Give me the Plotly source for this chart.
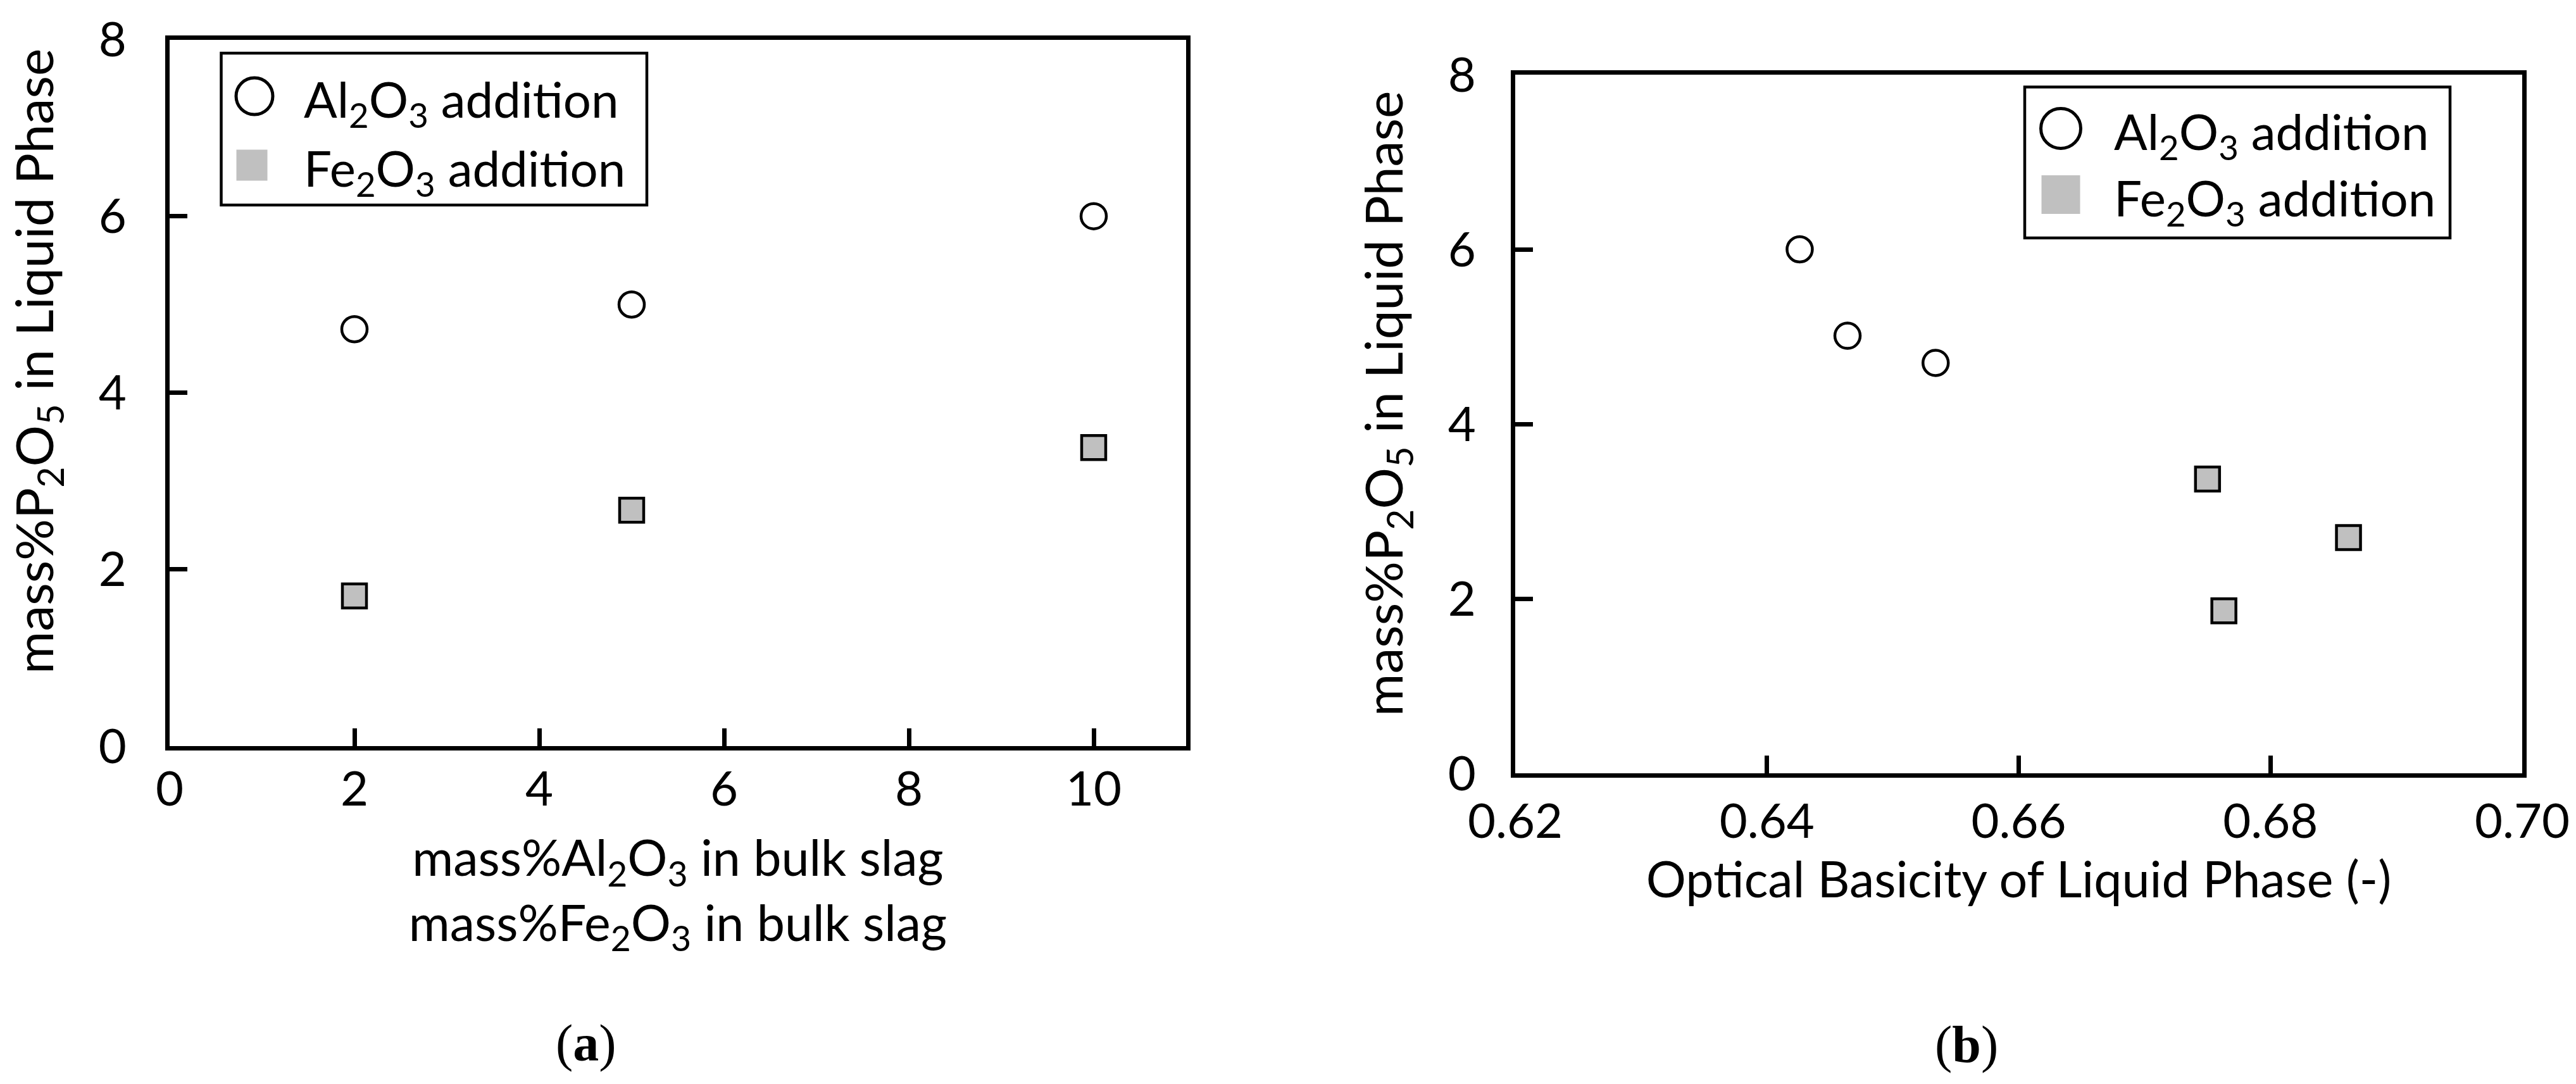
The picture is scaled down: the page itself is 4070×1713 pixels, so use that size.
import plotly.graph_objects as go
from plotly.subplots import make_subplots

W, H = 4070, 1713

# ---- data ----
# (a) against added oxide in bulk slag
bulk_al2o3 = [2, 5, 10]
p2o5_al2o3_a = [4.72, 5.00, 6.00]
bulk_fe2o3 = [2, 5, 10]
p2o5_fe2o3_a = [1.70, 2.67, 3.38]

# (b) against optical basicity of liquid phase
ob_al2o3 = [0.6426, 0.6464, 0.6534]
p2o5_al2o3_b = [6.00, 5.01, 4.70]
ob_fe2o3 = [0.6750, 0.6862, 0.6763]
p2o5_fe2o3_b = [3.37, 2.70, 1.86]

ticks_a = [0, 2, 4, 6, 8, 10]
ticks_b = [0.62, 0.64, 0.66, 0.68, 0.70]
ticks_y = [0, 2, 4, 6, 8]

AL_NAME = "Al<sub>2</sub>O<sub>3</sub> addition"
FE_NAME = "Fe<sub>2</sub>O<sub>3</sub> addition"
Y_TITLE = "mass%P<sub>2</sub>O<sub>5</sub> in Liquid Phase"

FONT = "Lato"
FS = 76        # tick labels
FS_TITLE = 79  # x axis titles
FS_YTITLE = 82
FS_LEG = 78    # legend text
GRAY = "#C0C0C0"


def px(x, y):
    # pixel position (from top-left) -> paper coords
    return x / W, 1 - y / H


fig = make_subplots(rows=1, cols=2)

circle = dict(symbol="circle", size=40, color="white", line=dict(color="black", width=4.5))
square = dict(symbol="square", size=38, color=GRAY, line=dict(color="black", width=4.5))

fig.add_trace(go.Scatter(x=bulk_al2o3, y=p2o5_al2o3_a, mode="markers", name=AL_NAME,
                         marker=circle, showlegend=False, cliponaxis=False), row=1, col=1)
fig.add_trace(go.Scatter(x=bulk_fe2o3, y=p2o5_fe2o3_a, mode="markers", name=FE_NAME,
                         marker=square, showlegend=False, cliponaxis=False), row=1, col=1)
fig.add_trace(go.Scatter(x=ob_al2o3, y=p2o5_al2o3_b, mode="markers", name=AL_NAME,
                         marker=circle, showlegend=False, cliponaxis=False), row=1, col=2)
fig.add_trace(go.Scatter(x=ob_fe2o3, y=p2o5_fe2o3_b, mode="markers", name=FE_NAME,
                         marker=square, showlegend=False, cliponaxis=False), row=1, col=2)

axis_style = dict(
    showline=True, mirror=True, linecolor="black", linewidth=7,
    ticks="inside", ticklen=28, tickwidth=7, tickcolor="black",
    showgrid=False, zeroline=False, automargin=False,
    tickfont=dict(family=FONT, size=FS, color="black"),
)

fig.update_xaxes(axis_style)
fig.update_yaxes(axis_style)

title_font = dict(family=FONT, size=FS_TITLE, color="black")

fig.update_layout(
    xaxis=dict(domain=[268 / W, 1874 / W], range=[0, 11], tickvals=ticks_a,
               ticklabelstandoff=-4,
               title=dict(text="mass%Al<sub>2</sub>O<sub>3</sub> in bulk slag<br>"
                               "mass%Fe<sub>2</sub>O<sub>3</sub> in bulk slag",
                          font=title_font, standoff=43)),
    yaxis=dict(domain=[1 - 1179 / H, 1 - 62.5 / H], range=[0, 8], tickvals=ticks_y,
               ticklabelstandoff=46),
    xaxis2=dict(domain=[2394 / W, 3985 / W], range=[0.62, 0.70], tickvals=ticks_b,
                tickformat=".2f", ticklabelstandoff=4,
                title=dict(text="Optical Basicity of Liquid Phase (-)",
                           font=title_font, standoff=24)),
    yaxis2=dict(domain=[1 - 1222 / H, 1 - 118 / H], range=[0, 8], tickvals=ticks_y,
                ticklabelstandoff=40),
    width=W, height=H,
    margin=dict(l=0, r=0, t=0, b=0),
    plot_bgcolor="white", paper_bgcolor="white",
    showlegend=False,
    font=dict(family=FONT, size=FS, color="black"),
)

# y titles sit a little above the axis centre in the original, so place them by hand
for (tx, ty) in [(58, 571), (2190, 638)]:
    x, y = px(tx, ty)
    fig.add_annotation(x=x, y=y, xref="paper", yref="paper", text=Y_TITLE, textangle=-90,
                       showarrow=False, xanchor="center", yanchor="middle",
                       font=dict(family=FONT, size=FS_YTITLE, color="black"))


# ---- hand-drawn legends (marker glyphs are larger than plotly's legend allows) ----
def draw_legend(box, circ, sq, text_x, row_y):
    x0, y0 = px(box[0], box[1])
    x1, y1 = px(box[2], box[3])
    fig.add_shape(type="rect", xref="paper", yref="paper", x0=x0, y0=y0, x1=x1, y1=y1,
                  line=dict(color="black", width=4.5), fillcolor="white", layer="above")
    cx, cy, d = circ
    a0, b0 = px(cx - d / 2, cy - d / 2)
    a1, b1 = px(cx + d / 2, cy + d / 2)
    fig.add_shape(type="circle", xref="paper", yref="paper", x0=a0, y0=b0, x1=a1, y1=b1,
                  line=dict(color="black", width=5), fillcolor="white", layer="above")
    sx, sy, s = sq
    a0, b0 = px(sx - s / 2, sy - s / 2)
    a1, b1 = px(sx + s / 2, sy + s / 2)
    fig.add_shape(type="rect", xref="paper", yref="paper", x0=a0, y0=b0, x1=a1, y1=b1,
                  line=dict(width=0), fillcolor=GRAY, layer="above")
    for name, ry in zip([AL_NAME, FE_NAME], row_y):
        tx, ty = px(text_x, ry)
        fig.add_annotation(x=tx, y=ty, xref="paper", yref="paper", text=name,
                           xanchor="left", yanchor="middle", showarrow=False,
                           font=dict(family=FONT, size=FS_LEG, color="black"))


draw_legend((349.5, 84, 1022, 324), (402, 152, 58), (398, 261, 49), 478, (162, 270))
draw_legend((3199, 137.5, 3871, 376), (3256, 203, 63), (3256, 307.6, 61), 3338, (213, 317))

# panel labels
for lab, (lx, ly) in zip(["a", "b"], [(926, 1648), (3107, 1650)]):
    x, y = px(lx, ly)
    fig.add_annotation(x=x, y=y, xref="paper", yref="paper", text=f"(<b>{lab}</b>)",
                       showarrow=False, xanchor="center", yanchor="middle",
                       font=dict(family="Liberation Serif", size=82, color="black"))

# drop the default page margin so the figure fills the window exactly
fig.write_html("out.html", config={"displayModeBar": False},
               post_script="document.body.style.margin='0';document.body.style.overflow='hidden';")
